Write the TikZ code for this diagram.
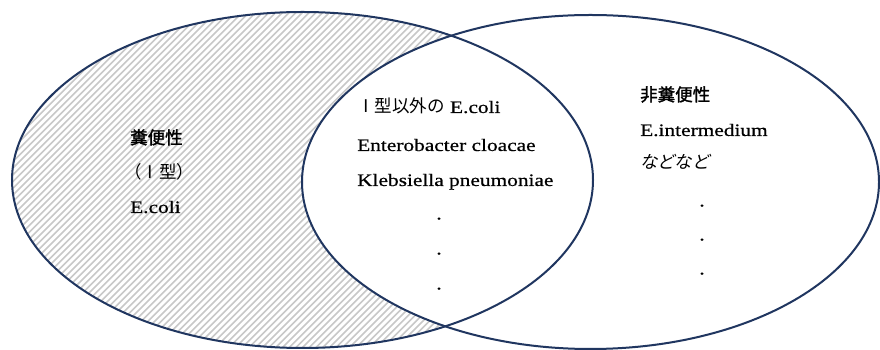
\documentclass[tikz,border=0pt]{standalone}
\usepackage{fontspec}
\setmainfont{Liberation Serif}[FakeStretch=1.22,FakeBold=0.6]
\newfontfamily\jp{Noto Sans CJK JP}
\newfontfamily\jpb{Noto Sans CJK JP}[FakeBold=1.6]
\newfontfamily\jpit{Noto Sans CJK JP}[FakeSlant=0.2]
\definecolor{navy}{RGB}{32,54,96}
\definecolor{hatchgray}{RGB}{200,200,200}
\begin{document}
\begin{tikzpicture}[x=1pt,y=1pt,
  lbl/.style={anchor=base west,inner sep=0pt,font=\fontsize{17.5}{21}\selectfont},
  dotlbl/.style={anchor=base,inner sep=0pt,font=\fontsize{17.5}{21}\selectfont},
  venn/.style={draw=navy,line width=2pt},
  hatchline/.style={draw=hatchgray,line width=1.6pt}]
\useasboundingbox (0,0) rectangle (880,350);
\fill[white] (0,0) rectangle (880,350);
% ellipse centres (y up)
\coordinate (cl) at (302.5,170);
\coordinate (cr) at (590.5,168);
% hatching of left-only region
\begin{scope}
  \clip (cl) ellipse [x radius=290.5, y radius=168];
  \begin{scope}[even odd rule]
    \clip (-20,-20) rectangle (900,370) (cr) ellipse [x radius=288.5, y radius=167];
    \foreach \i in {-400,-393.3,...,900} \draw[hatchline] (\i,-10) -- ++(370,370);
  \end{scope}
\end{scope}
\draw[venn] (cl) ellipse [x radius=290.5, y radius=168];
\draw[venn] (cr) ellipse [x radius=288.5, y radius=167];
% left texts
\node[lbl] (l1) at (130,206) {\jpb 糞便性};
\node[lbl] (l2) at (124,171) {\jp （Ⅰ型）};
\node[lbl] (l3) at (130,137) {E.coli};
% middle texts
\node[lbl] (m1) at (357,237) {{\jp Ⅰ型以外の} E.coli};
\node[lbl] (m2) at (357,199) {Enterobacter cloacae};
\node[lbl] (m3) at (357,164) {Klebsiella pneumoniae};
\node[dotlbl] (md1) at (439,130.5) {.};
\node[dotlbl] (md2) at (439,95.5) {.};
\node[dotlbl] (md3) at (439,60.5) {.};
% right texts
\node[lbl] (r1) at (640,249) {\jpb 非糞便性};
\node[lbl] (r2) at (640,214) {E.intermedium};
\node[lbl] (r3) at (640,181) {\jpit などなど};
\node[dotlbl] (rd1) at (702,143.5) {.};
\node[dotlbl] (rd2) at (702,109.5) {.};
\node[dotlbl] (rd3) at (702,75.5) {.};
\end{tikzpicture}
\end{document}
